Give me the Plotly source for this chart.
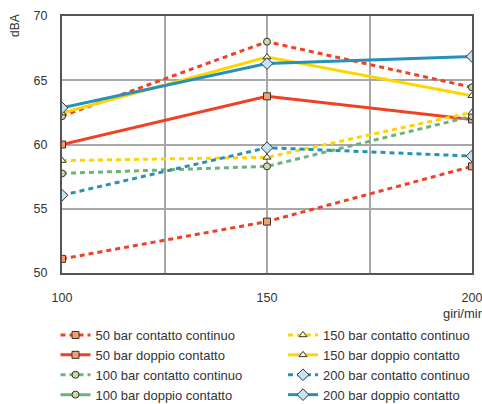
import plotly.graph_objects as go

rpm = [100, 150, 200]
x_ticks = [100, 125, 150, 175, 200]
x_ticktext = ["100", "", "150", "", "200"]
y_ticks = [50, 55, 60, 65, 70]

names = [
    "50 bar contatto continuo", "50 bar doppio contatto",
    "100 bar contatto continuo", "100 bar doppio contatto",
    "150 bar contatto continuo", "150 bar doppio contatto",
    "200 bar contatto continuo", "200 bar doppio contatto",
]
v50_cont = [51.1, 54.0, 58.3]
v50_dopp = [60.0, 63.75, 61.95]
v100_cont = [57.75, 58.3, 62.2]
v100_dopp = [62.2, 68.0, 64.45]
v150_cont = [58.75, 59.0, 62.5]
v150_dopp = [62.45, 66.8, 63.8]
v200_cont = [56.05, 59.75, 59.1]
v200_dopp = [62.85, 66.3, 66.85]

RED, GREEN, YELLOW, BLUE = "#EF4125", "#6DB27B", "#FFD500", "#2593B8"
FILL = {"square": "#F5A06A", "circle": "#C6DCA2", "triangle-up": "#FFFCE0", "diamond": "#C2E4F6"}
DASH = "5px,4px"

series = [
    (names[0], v50_cont, RED, DASH, "square", "legend"),
    (names[1], v50_dopp, RED, "solid", "square", "legend"),
    (names[2], v100_cont, GREEN, DASH, "circle", "legend"),
    (names[3], v100_dopp, GREEN, "solid", "circle", "legend"),
    (names[4], v150_cont, YELLOW, DASH, "triangle-up", "legend2"),
    (names[5], v150_dopp, YELLOW, "solid", "triangle-up", "legend2"),
    (names[6], v200_cont, BLUE, DASH, "diamond", "legend2"),
    (names[7], v200_dopp, BLUE, "solid", "diamond", "legend2"),
]

fig = go.Figure()
for name, vals, col, dash, sym, lg in series:
    marker = dict(symbol=sym, size=7 if sym != "diamond" else 9,
                  color=FILL[sym], line=dict(color="#333333", width=1))
    if name == names[3]:
        # in the original the line through these points is drawn red dotted
        fig.add_trace(go.Scatter(x=rpm, y=vals, mode="lines+markers", showlegend=False,
                                 line=dict(color=RED, width=3, dash=DASH), marker=marker))
        fig.add_trace(go.Scatter(x=[None], y=[None], mode="lines+markers", name=name,
                                 legend=lg, line=dict(color=col, width=3, dash=dash), marker=marker))
    else:
        fig.add_trace(go.Scatter(x=rpm, y=vals, mode="lines+markers", name=name, legend=lg,
                                 line=dict(color=col, width=3, dash=dash), marker=marker))

# the page body margin is removed by the post_script, so the figure fills the window
W, H = 482, 404
legend_common = dict(font=dict(size=13, color="#333333", family="Liberation Sans, Arial"),
                     bgcolor="rgba(0,0,0,0)", yanchor="top", xanchor="left",
                     xref="container", yref="container",
                     tracegroupgap=0, itemwidth=30)

fig.update_layout(
    width=W, height=H,
    margin=dict(l=62, r=10, t=16, b=H - 273, autoexpand=False),
    paper_bgcolor="white", plot_bgcolor="white",
    font=dict(family="Liberation Sans, Arial", size=12, color="#333333"),
    legend=dict(x=55.5 / W, y=1 - 320 / H, **legend_common),
    legend2=dict(x=283 / W, y=1 - 320 / H, **legend_common),
    xaxis=dict(range=[100, 200], tickvals=x_ticks, ticktext=x_ticktext,
               showgrid=True, gridcolor="#A8A8A8", gridwidth=1.5,
               showline=True, linecolor="#555555", linewidth=2, mirror=True,
               ticks="", ticklabelstandoff=12, zeroline=False,
               ticklabeloverflow="allow",
               tickfont=dict(size=12.5)),
    yaxis=dict(range=[50, 70], tickvals=y_ticks,
               showgrid=True, gridcolor="#A8A8A8", gridwidth=1.5,
               showline=True, linecolor="#555555", linewidth=2, mirror=True,
               ticks="", ticklabelstandoff=10, zeroline=False,
               tickfont=dict(size=12.5)),
    annotations=[
        dict(text="dBA", x=(15 - 62) / 410, y=(273 - 26) / 257, xref="paper", yref="paper",
             xanchor="center", yanchor="middle",
             showarrow=False, textangle=-90, font=dict(size=12, color="#333333")),
        dict(text="giri/min", x=(441 - 62) / 410, y=(273 - 313) / 257, xref="paper", yref="paper",
             xanchor="left", yanchor="middle", showarrow=False,
             font=dict(size=13, color="#333333")),
    ],
)

fig.write_html("out.html",
               config={"displayModeBar": False},
               post_script="document.body.style.margin='0';"
                           "document.documentElement.style.overflow='hidden';")
